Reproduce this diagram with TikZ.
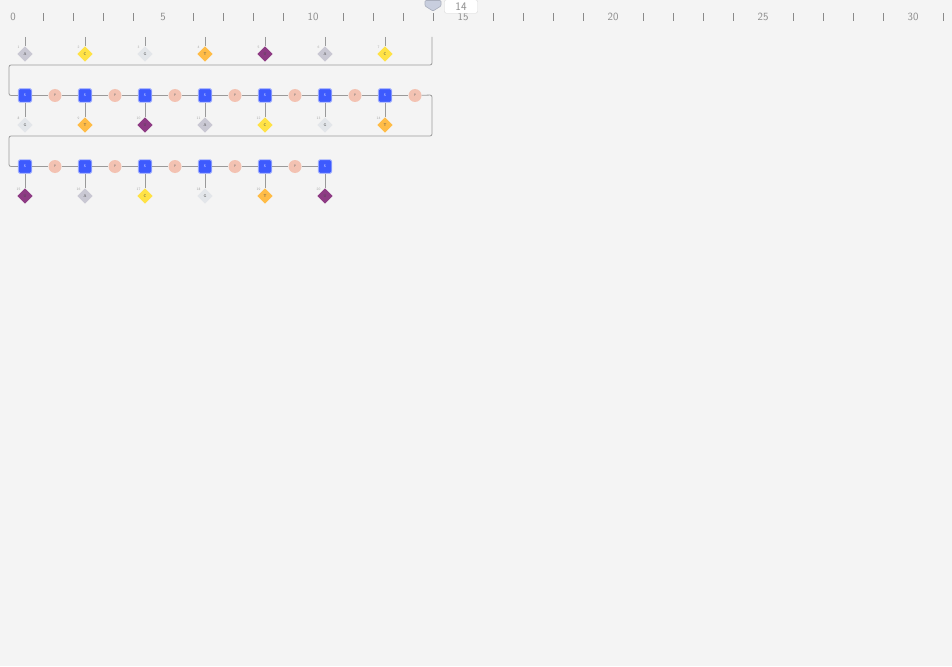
\documentclass[tikz,border=0pt]{standalone}
\usepackage{fontspec}
\setmainfont{Liberation Sans}
\usetikzlibrary{positioning, shapes.geometric, calc}

\definecolor{bgcol}{HTML}{F4F4F4}
\definecolor{sugarcol}{HTML}{3D5AFE}
\definecolor{phoscol}{HTML}{F3C2B2}
\definecolor{baseA}{HTML}{C9C8D3}
\definecolor{baseC}{HTML}{FFE246}
\definecolor{baseG}{HTML}{E3E6EA}
\definecolor{baseT}{HTML}{FFBC47}
\definecolor{baseU}{HTML}{8E3B84}
\definecolor{linecol}{HTML}{9A9A9A}
\definecolor{rulercol}{HTML}{8A8A8A}
\definecolor{markcol}{HTML}{C8CEDE}

\begin{document}
\begin{tikzpicture}[
  x=1pt, y=-1pt,
  font=\sffamily,
  sugar/.style={draw=sugarcol!45, line width=0.8pt, fill=sugarcol,
    rounded corners=1.5pt, minimum size=13.5pt, inner sep=0pt,
    font=\sffamily\fontsize{3.5}{3.5}\selectfont, text=white},
  phos/.style={circle, fill=phoscol, minimum size=13pt, inner sep=0pt,
    font=\sffamily\fontsize{3.5}{3.5}\selectfont, text=black!55},
  base/.style={diamond, minimum size=15.5pt, inner sep=0pt,
    font=\sffamily\fontsize{4}{4}\selectfont, text=black!70},
  idx/.style={font=\sffamily\fontsize{3.5}{4}\selectfont, text=black!35,
    inner sep=0pt},
  bond/.style={draw=linecol, line width=0.8pt},
  tickmark/.style={draw=rulercol, line width=1pt},
  rulerlab/.style={font=\sffamily\fontsize{11}{11}\selectfont,
    text=rulercol, inner sep=0pt},
]
  % canvas
  \fill[bgcol] (0,0) rectangle (952,666);
  \useasboundingbox (0,0) rectangle (952,666);

  % ruler
  \foreach \k in {0,...,31} {
    \pgfmathtruncatemacro{\rx}{13+30*\k}
    \pgfmathtruncatemacro{\rm}{mod(\k,5)}
    \ifnum\rm=0
      \node[rulerlab] (lab\k) at (\rx,17) {\k};
    \else
      \draw[tickmark] (\rx,13.5) -- (\rx,21);
    \fi
  }

  % position marker
  \draw[fill=markcol, draw=markcol!85!black, line width=0.6pt, rounded corners=1pt]
    (425,0.5) -- (441,0.5) -- (441,6) -- (433,11) -- (425,6) -- cycle;
  \node[draw=black!15, fill=white, rounded corners=2pt, minimum width=33pt,
    minimum height=13.5pt, inner sep=0pt, text=rulercol,
    font=\sffamily\fontsize{11.5}{11.5}\selectfont] (posbox) at (461,6.5) {14};

  % wrap corners
  \coordinate (wrapA) at (432,37);
  \coordinate (turnA) at (9,65);
  \coordinate (wrapB) at (432,95);
  \coordinate (turnB) at (9,136);

  % bases
  \foreach \b [count=\i] in {A,C,G,T,U,A,C,G,T,U,A,C,G,T,U,A,C,G,T,U} {
    \pgfmathtruncatemacro{\row}{int((\i-1)/7)}
    \pgfmathtruncatemacro{\col}{mod(\i-1,7)}
    \pgfmathsetmacro{\bx}{25+60*\col}
    \pgfmathsetmacro{\sy}{24.5+71*\row}
    \node[base, fill=base\b] (b\i) at (\bx,\sy+29.5) {\b};
    \node[idx] (n\i) at ($(b\i)+(-6.5,-6.5)$) {\i};
    \ifnum\row=0
      \coordinate (stem\i) at (\bx,37);
      \draw[bond] (stem\i) -- (b\i);
    \else
      \node[sugar] (s\i) at (\bx,\sy) {S};
      \draw[bond] (s\i) -- (b\i);
      \ifnum\i<20
        \node[phos] (p\i) at (\bx+30,\sy) {P};
        \draw[bond] (s\i) -- (p\i);
      \fi
    \fi
  }

  % backbone within rows
  \foreach \a/\c in {8/9, 9/10, 10/11, 11/12, 12/13, 13/14,
                     15/16, 16/17, 17/18, 18/19, 19/20}
    \draw[bond] (p\a) -- (s\c);

  % backbone between rows
  \draw[bond, rounded corners=2pt] (wrapA) |- (turnA) |- (s8);
  \draw[bond, rounded corners=2pt] (p14) -- (wrapB) |- (turnB) |- (s15);
\end{tikzpicture}
\end{document}
